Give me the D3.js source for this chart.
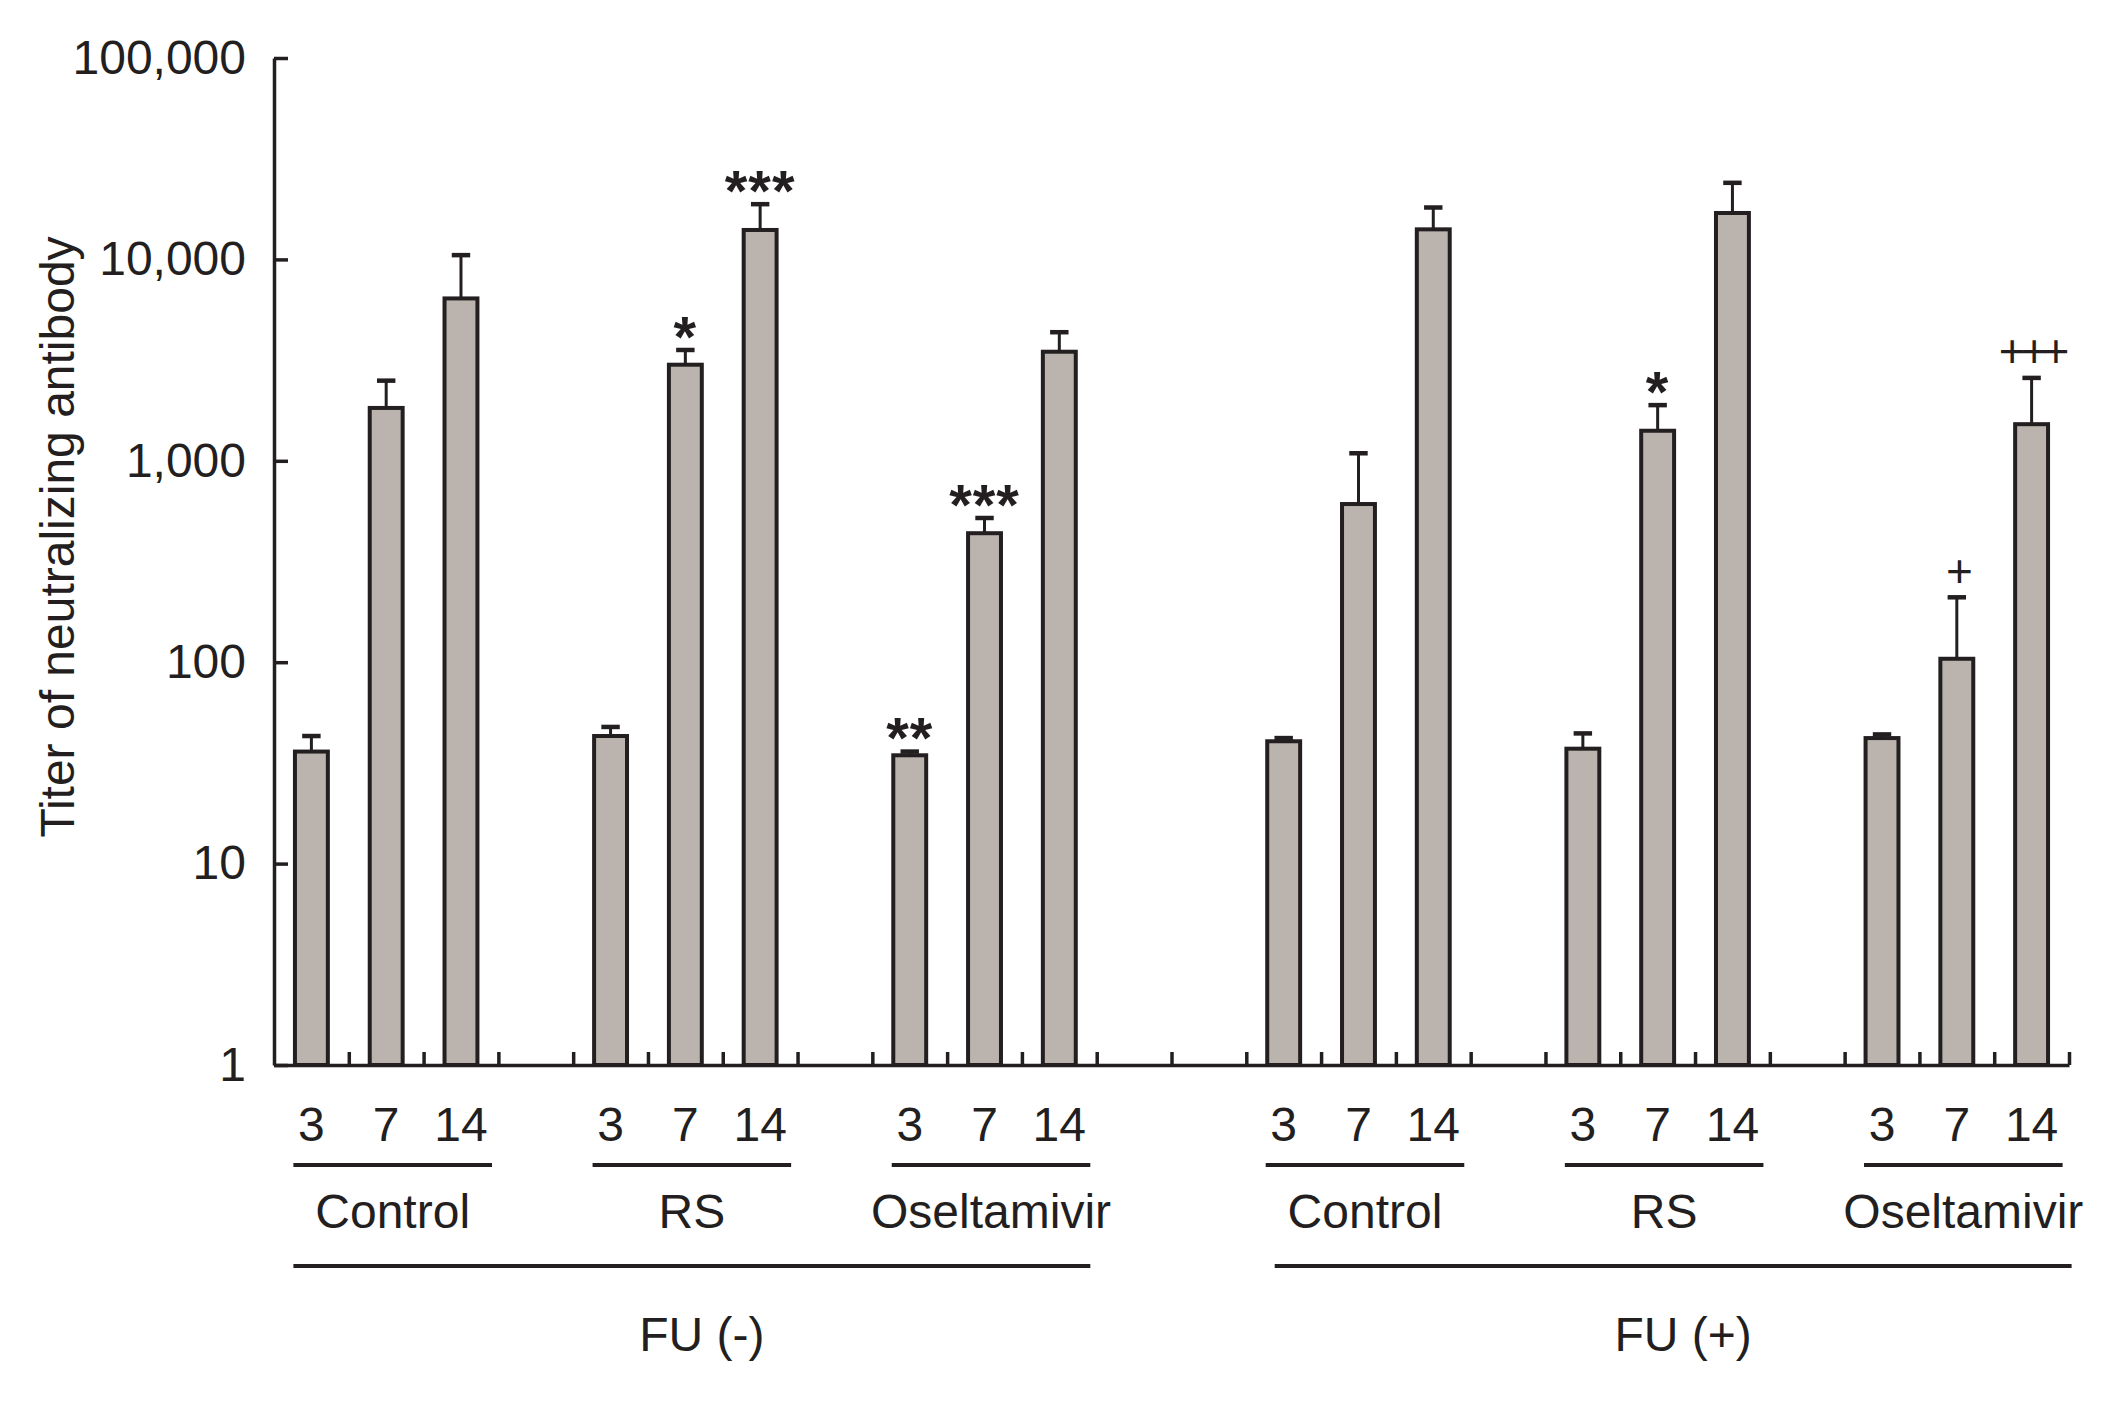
<!DOCTYPE html>
<html>
<head>
<meta charset="utf-8">
<script src="https://cdn.jsdelivr.net/npm/d3@7"></script>
<style>
  html, body { margin: 0; padding: 0; background: #ffffff; }
  svg { display: block; }
  text { font-family: "Liberation Sans", Arial, Helvetica, sans-serif; fill: #231f20; }
</style>
</head>
<body>
<svg id="chart" width="2123" height="1403"></svg>
<script>
// ---------------- data ----------------
const fuLabels = ["FU (-)", "FU (+)"];
const treatments = ["Control", "RS", "Oseltamivir"];
const days = ["3", "7", "14"];
// mean titers, order: Control 3/7/14, RS 3/7/14, Oseltamivir 3/7/14
const titerFUminus = [36, 1830, 6400, 43, 3000, 14000, 34.5, 437, 3480];
const titerFUplus  = [40.5, 610, 14100, 37.2, 1410, 17000, 42, 104, 1520];
// upper error (SD)
const sdFUminus = [7, 670, 4100, 4.7, 550, 4800, 1.5, 83, 870];
const sdFUplus  = [1.5, 480, 4000, 7.1, 480, 7000, 1.8, 106, 1060];
// significance marks
const marksFUminus = ["", "", "", "", "*", "***", "**", "***", ""];
const marksFUplus  = ["", "", "", "", "*", "", "", "+", "+++"];
const yTickValues = [1, 10, 100, 1000, 10000, 100000];
const yTitle = "Titer of neutralizing antibody";

// -------------- layout ---------------
const svg = d3.select("#chart");
const ink = "#231f20";
const barFill = "#bbb3ae";
const nSlots = 24;
const x = d3.scaleLinear().domain([0, nSlots]).range([274, 2069]);
const y = d3.scaleLog().domain([1, 100000]).range([1065, 58]);
const slotW = x(1) - x(0);
const barW = slotW * 0.44;
const slotOf = (fu, t, d) => fu * 13 + t * 4 + d;
const cx = s => x(s + 0.5);

const rows = [];
[titerFUminus, titerFUplus].forEach((arr, fu) => {
  const sds = fu === 0 ? sdFUminus : sdFUplus;
  const mk = fu === 0 ? marksFUminus : marksFUplus;
  arr.forEach((v, i) => {
    const t = Math.floor(i / 3), d = i % 3;
    rows.push({fu, t, d, value: v, sd: sds[i], mark: mk[i], slot: slotOf(fu, t, d)});
  });
});

// bars
svg.append("g").selectAll("rect").data(rows).join("rect")
  .attr("x", d => cx(d.slot) - barW / 2)
  .attr("y", d => y(d.value))
  .attr("width", barW)
  .attr("height", d => y(1) - y(d.value))
  .attr("fill", barFill)
  .attr("stroke", ink)
  .attr("stroke-width", 4);

// error bars (upper only)
const eb = svg.append("g").attr("stroke", ink);
eb.selectAll("line.stem").data(rows).join("line").attr("class", "stem")
  .attr("x1", d => cx(d.slot)).attr("x2", d => cx(d.slot))
  .attr("y1", d => y(d.value)).attr("y2", d => y(d.value + d.sd))
  .attr("stroke-width", 3);
eb.selectAll("line.cap").data(rows).join("line").attr("class", "cap")
  .attr("x1", d => cx(d.slot) - barW * 0.28).attr("x2", d => cx(d.slot) + barW * 0.28)
  .attr("y1", d => y(d.value + d.sd)).attr("y2", d => y(d.value + d.sd))
  .attr("stroke-width", 4.5);

// significance marks
svg.append("g").selectAll("text").data(rows.filter(d => d.mark)).join("text")
  .attr("x", d => cx(d.slot))
  .attr("y", d => {
    const c = y(d.value + d.sd) - 27;
    return d.mark[0] === "*" ? c + 0.58 * 58 : c + 0.355 * 46;
  })
  .attr("text-anchor", "middle")
  .attr("font-size", d => d.mark[0] === "*" ? 58 : 46)
  .attr("font-weight", d => d.mark[0] === "*" ? "bold" : "normal")
  .attr("letter-spacing", d => d.mark[0] === "*" ? 1 : -5)
  .text(d => d.mark);

// y axis
const yAxis = d3.axisLeft(y).tickValues(yTickValues)
  .tickFormat(d3.format(","))
  .tickSizeInner(-14).tickSizeOuter(0).tickPadding(28);
const gy = svg.append("g").attr("transform", `translate(${x(0)},0)`).call(yAxis);
gy.selectAll("path, line").attr("stroke", ink).attr("stroke-width", 3.5);
gy.selectAll("text").attr("font-size", 48).attr("fill", ink)
  .attr("font-family", "Liberation Sans, Arial, sans-serif");

// x axis (slot boundaries)
const xAxis = d3.axisBottom(x).tickValues(d3.range(1, nSlots + 1))
  .tickFormat("").tickSizeInner(-13).tickSizeOuter(0);
const gx = svg.append("g").attr("transform", `translate(0,${y(1)})`).call(xAxis);
gx.selectAll("path, line").attr("stroke", ink).attr("stroke-width", 3.5);

// y title
svg.append("text")
  .attr("transform", `translate(74,537) rotate(-90)`)
  .attr("text-anchor", "middle")
  .attr("font-size", 48)
  .text(yTitle);

// day labels
svg.append("g").selectAll("text").data(rows).join("text")
  .attr("x", d => cx(d.slot))
  .attr("y", 1141)
  .attr("text-anchor", "middle")
  .attr("font-size", 48)
  .text(d => days[d.d]);

// treatment underline + labels
const lines = svg.append("g").attr("stroke", ink).attr("stroke-width", 4);
const tGroups = [];
[0, 1].forEach(fu => treatments.forEach((name, t) => {
  const x0 = cx(slotOf(fu, t, 0)) - 18;
  const x1 = cx(slotOf(fu, t, 2)) + 31;
  tGroups.push({fu, name, x0, x1});
}));
lines.selectAll("line.t").data(tGroups).join("line").attr("class", "t")
  .attr("x1", d => d.x0).attr("x2", d => d.x1)
  .attr("y1", 1165).attr("y2", 1165);
svg.append("g").selectAll("text").data(tGroups).join("text")
  .attr("x", d => (d.x0 + d.x1) / 2)
  .attr("y", 1228)
  .attr("text-anchor", "middle")
  .attr("font-size", 48)
  .text(d => d.name);

// FU lines + labels
const fuShift = [0, 9];
const fuGroups = fuLabels.map((name, fu) => {
  const g = tGroups.filter(d => d.fu === fu);
  return {name, x0: g[0].x0 + fuShift[fu], x1: g[g.length - 1].x1 + fuShift[fu]};
});
lines.selectAll("line.f").data(fuGroups).join("line").attr("class", "f")
  .attr("x1", d => d.x0).attr("x2", d => d.x1)
  .attr("y1", 1266).attr("y2", 1266);
svg.append("g").selectAll("text").data(fuGroups).join("text")
  .attr("x", d => (d.x0 + d.x1) / 2 + 10)
  .attr("y", 1351)
  .attr("text-anchor", "middle")
  .attr("font-size", 48)
  .text(d => d.name);
</script>
</body>
</html>
